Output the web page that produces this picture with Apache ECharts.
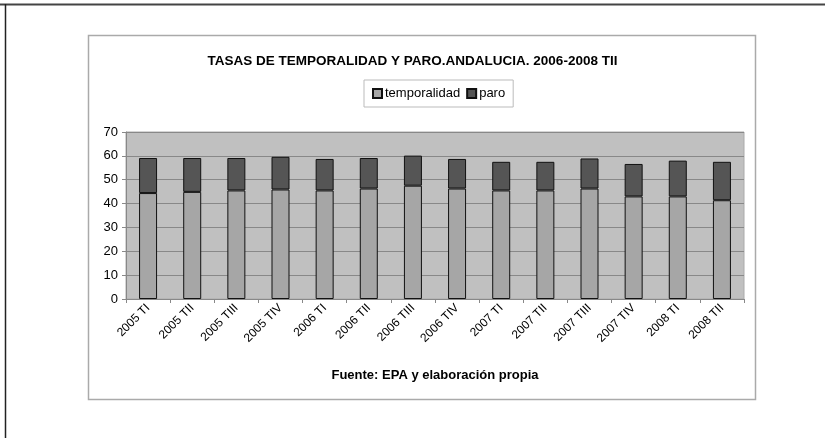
<!DOCTYPE html>
<html><head><meta charset="utf-8">
<script src="https://cdn.jsdelivr.net/npm/echarts@6/dist/echarts.min.js"></script>
<style>html,body{margin:0;padding:0;background:#fff}#c{width:825px;height:438px}</style>
</head><body><div id="c"></div>
<script>
const categories = ['2005 TI','2005 TII','2005 TIII','2005 TIV','2006 TI','2006 TII','2006 TIII','2006 TIV','2007 TI','2007 TII','2007 TIII','2007 TIV','2008 TI','2008 TII'];
const temporalidad = [44.4, 44.9, 45.5, 45.9, 45.5, 46.3, 47.5, 46.3, 45.5, 45.5, 46.3, 43.0, 43.0, 41.4];
const paro = [14.7, 14.2, 13.6, 13.7, 13.2, 12.8, 12.6, 12.4, 12.0, 12.0, 12.6, 13.6, 15.0, 16.1];
const yTicks = [0, 10, 20, 30, 40, 50, 60, 70];

const chart = echarts.init(document.getElementById('c'), null, {renderer: 'canvas'});
const font = 'Liberation Sans, Arial, sans-serif';
chart.setOption({
  animation: false,
  backgroundColor: '#fff',
  title: {
    text: 'TASAS DE TEMPORALIDAD Y PARO.ANDALUCIA. 2006-2008 TII',
    left: 'center', top: 49,
    textStyle: {fontFamily: font, fontSize: 13.5, fontWeight: 'bold', color: '#000'}
  },
  legend: {
    data: ['temporalidad', 'paro'],
    top: 80, left: 364,
    itemWidth: 9, itemHeight: 9, itemGap: 6,
    icon: 'rect',
    padding: [7, 8, 7, 8],
    borderColor: '#bbb', borderWidth: 1,
    textStyle: {fontFamily: font, fontSize: 13, color: '#000', padding: [0, 0, 0, -2]}
  },
  grid: {
    left: 126, top: 132, width: 618, height: 167,
    show: true, backgroundColor: '#c0c0c0', borderColor: '#aaa', borderWidth: 1
  },
  xAxis: {
    type: 'category', data: categories,
    axisLine: {lineStyle: {color: '#888'}},
    axisTick: {show: true, length: 4, lineStyle: {color: '#888'}},
    axisLabel: {rotate: 45, fontFamily: font, fontSize: 12, color: '#000', margin: 7, interval: 0},
    name: 'Fuente: EPA y elaboración propia',
    nameLocation: 'middle', nameGap: 70,
    nameTextStyle: {fontFamily: font, fontSize: 13, fontWeight: 'bold', color: '#000'}
  },
  yAxis: {
    type: 'value', min: yTicks[0], max: yTicks[yTicks.length - 1], interval: 10,
    axisLine: {show: true, lineStyle: {color: '#888'}},
    axisTick: {show: true, length: 4, lineStyle: {color: '#888'}},
    axisLabel: {fontFamily: font, fontSize: 13, color: '#000', margin: 8},
    splitLine: {show: true, lineStyle: {color: '#888', width: 1}}
  },
  series: [
    {name: 'temporalidad', type: 'bar', stack: 't', data: temporalidad,
     barWidth: 18,
     itemStyle: {color: '#a6a6a6', borderColor: '#111', borderWidth: 1}},
    {name: 'paro', type: 'bar', stack: 't', data: paro,
     barWidth: 18,
     itemStyle: {color: '#555555', borderColor: '#111', borderWidth: 1}}
  ],
  graphic: [
    {type: 'line', shape: {x1: 0, y1: 4.5, x2: 825, y2: 4.5}, style: {stroke: '#444', lineWidth: 2}, silent: true},
    {type: 'line', shape: {x1: 5.5, y1: 4, x2: 5.5, y2: 438}, style: {stroke: '#222', lineWidth: 1.5}, silent: true},
    {type: 'rect', shape: {x: 88.5, y: 35.5, width: 667, height: 364}, style: {fill: 'none', stroke: '#aaa', lineWidth: 1.5}, silent: true, z: -1}
  ]
});
</script></body></html>
